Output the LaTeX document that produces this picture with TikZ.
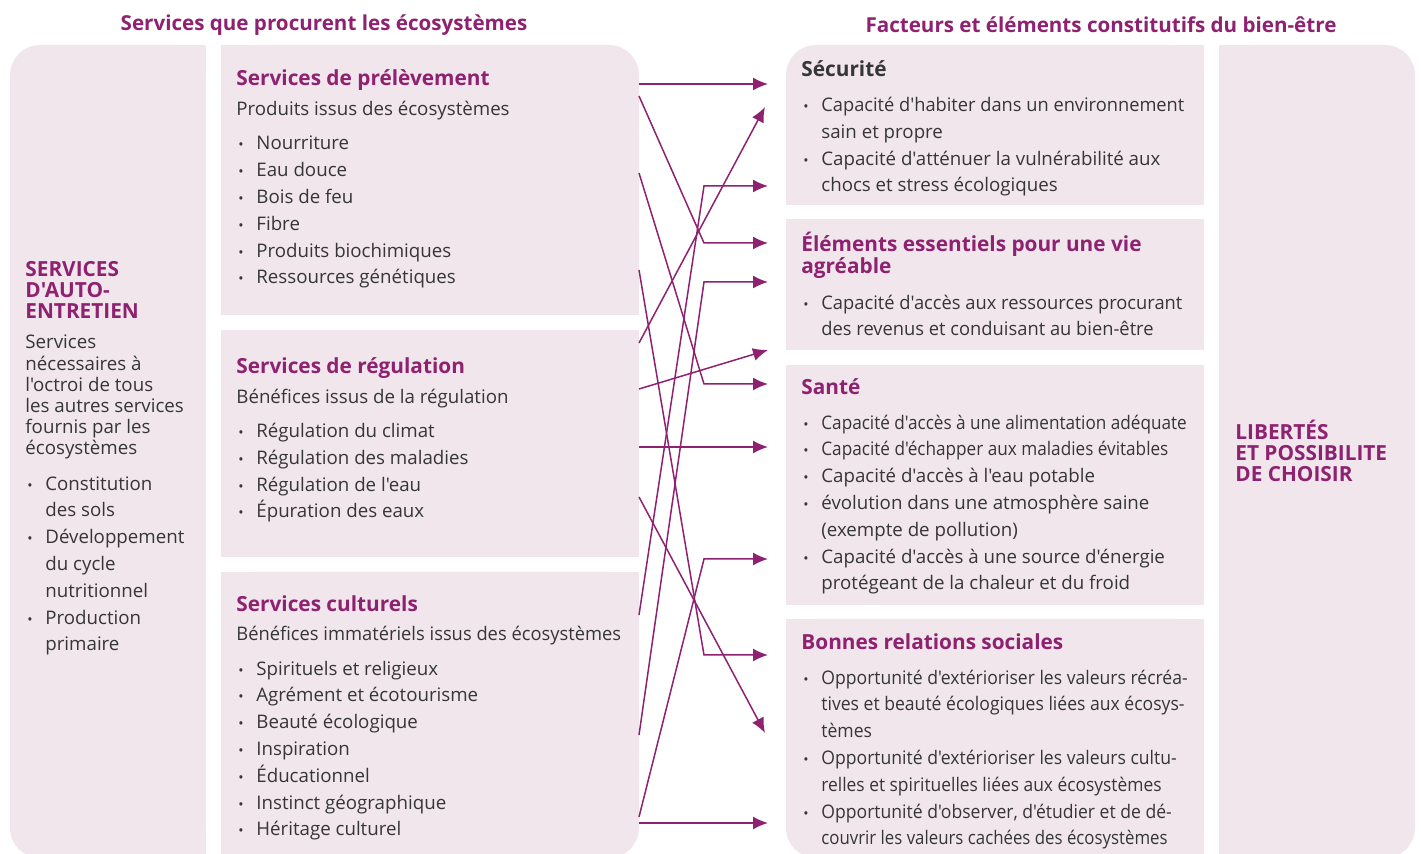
\documentclass[tikz,border=0pt]{standalone}
\usepackage{fontspec}
\setmainfont{Open Sans}[Ligatures=TeXOff]
\usepackage{graphicx}
\usepackage{tikz}
\usetikzlibrary{arrows.meta}
\definecolor{plum}{HTML}{8E2170}
\definecolor{panel}{HTML}{F0E6EC}
\definecolor{ink}{HTML}{363636}
% bullet, hanging indent and a horizontal squeeze for long lines
\newcommand{\bul}{\makebox[10pt][l]{\hspace{1pt}{\fontsize{7}{7}\selectfont\textbullet}}}
\newcommand{\hang}{\hspace*{10pt}}
\newcommand{\sq}[2]{\scalebox{#1}[1]{#2}}

\begin{document}
\begin{tikzpicture}[x=0.5pt,y=-0.5pt,>={Latex[length=7.5pt,width=6.5pt]}]
\tikzset{
  colhead/.style={font=\fontsize{10.3}{12}\selectfont\bfseries,text=plum,inner sep=0},
  boxhead/.style={font=\fontsize{10.4}{11}\selectfont\bfseries,text=plum,inner sep=0,anchor=base west,align=left},
  capshead/.style={font=\fontsize{10.4}{10.5}\selectfont\bfseries,text=plum,inner sep=0,anchor=base west,align=left},
  sub/.style={font=\fontsize{9.35}{10.6}\selectfont,text=ink,inner sep=0,anchor=base west,align=left},
  items/.style={font=\fontsize{9.35}{13.4}\selectfont,text=ink,inner sep=0,anchor=base west,align=left},
  flow/.style={->,line width=0.75pt,draw=plum},
}
\useasboundingbox (0,0) rectangle (1421,854);

% panels: a rounded fill, then square fills over the corners that stay sharp
\fill[panel,rounded corners=15pt] (10,45) rectangle (206,858);
\fill[panel] (110,45) rectangle (206,858);
\fill[panel,rounded corners=15pt] (221,45) rectangle (639,315);
\fill[panel] (221,45) rectangle (430,315);
\fill[panel] (221,150) rectangle (639,315);
\fill[panel] (221,330) rectangle (639,557);
\fill[panel,rounded corners=15pt] (221,572) rectangle (639,858);
\fill[panel] (221,572) rectangle (430,858);
\fill[panel] (221,572) rectangle (639,720);
\fill[panel,rounded corners=15pt] (786,45) rectangle (1204,205);
\fill[panel] (1000,45) rectangle (1204,205);
\fill[panel] (786,120) rectangle (1204,205);
\fill[panel] (786,219) rectangle (1204,350);
\fill[panel] (786,365) rectangle (1204,605);
\fill[panel,rounded corners=15pt] (786,619) rectangle (1204,858);
\fill[panel] (1000,619) rectangle (1204,858);
\fill[panel] (786,619) rectangle (1204,740);
\fill[panel,rounded corners=15pt] (1219,45) rectangle (1415,858);
\fill[panel] (1219,45) rectangle (1320,858);

% column headings
\node[colhead] (svc) at (324,25) {Services que procurent les écosystèmes};
\node[colhead] (bien) at (1101,25) {Facteurs et éléments constitutifs du bien-être};

% supporting services (base = last line)
\node[capshead] (auto) at (25,319) {SERVICES\\D'AUTO-\\ENTRETIEN};
\node[sub] (autodesc) at (25,455) {Services\\nécessaires à\\l'octroi de tous\\les autres services\\fournis par les\\écosystèmes};
\node[items] (autolist) at (25,651) {\bul Constitution\\\hang des sols\\\bul Développement\\\hang du cycle\\\hang nutritionnel\\\bul Production\\\hang primaire};

% provisioning, regulating and cultural services
\node[boxhead] (prov) at (236,86) {Services de prélèvement};
\node[sub] (provsub) at (236,116) {Produits issus des écosystèmes};
\node[items] (provlist) at (236,284) {\bul Nourriture\\\bul Eau douce\\\bul Bois de feu\\\bul Fibre\\\bul Produits biochimiques\\\bul Ressources génétiques};

\node[boxhead] (reg) at (236,374) {Services de régulation};
\node[sub] (regsub) at (236,404) {Bénéfices issus de la régulation};
\node[items] (reglist) at (236,518) {\bul Régulation du climat\\\bul Régulation des maladies\\\bul Régulation de l'eau\\\bul Épuration des eaux};

\node[boxhead] (cult) at (236,612) {Services culturels};
\node[sub] (cultsub) at (236,641) {\sq{.98}{Bénéfices immatériels issus des écosystèmes}};
\node[items] (cultlist) at (236,836) {\bul Spirituels et religieux\\\bul Agrément et écotourisme\\\bul Beauté écologique\\\bul Inspiration\\\bul Éducationnel\\\bul Instinct géographique\\\bul Héritage culturel};

% constituents of well-being
\node[boxhead,text=ink] (secu) at (801,77) {Sécurité};
\node[items] (seculist) at (801,192) {\bul\sq{.976}{Capacité d'habiter dans un environnement}\\\hang sain et propre\\\bul Capacité d'atténuer la vulnérabilité aux\\\hang chocs et stress écologiques};

\node[boxhead] (vie) at (801,274) {Éléments essentiels pour une vie\\agréable};
\node[items] (vielist) at (801,336) {\bul\sq{.98}{Capacité d'accès aux ressources procurant}\\\hang\sq{.98}{des revenus et conduisant au bien-être}};

\node[boxhead] (sante) at (801,395) {Santé};
\node[items] (santelist) at (801,590) {\bul\sq{.917}{Capacité d'accès à une alimentation adéquate}\\\bul\sq{.918}{Capacité d'échapper aux maladies évitables}\\\bul Capacité d'accès à l'eau potable\\\bul évolution dans une atmosphère saine\\\hang (exempte de pollution)\\\bul Capacité d'accès à une source d'énergie\\\hang protégeant de la chaleur et du froid};

\node[boxhead] (soc) at (801,650) {Bonnes relations sociales};
\node[items] (soclist) at (801,845) {\bul\sq{.94}{Opportunité d'extérioriser les valeurs récréa-}\\\hang\sq{.94}{tives et beauté écologiques liées aux écosys-}\\\hang\sq{.94}{tèmes}\\\bul\sq{.94}{Opportunité d'extérioriser les valeurs cultu-}\\\hang\sq{.93}{relles et spirituelles liées aux écosystèmes}\\\bul\sq{.94}{Opportunité d'observer, d'étudier et de dé-}\\\hang\sq{.9}{couvrir les valeurs cachées des écosystèmes}};

\node[capshead] (libre) at (1235,482) {LIBERTÉS\\ET POSSIBILITE\\DE CHOISIR};

% arrow ends on both sides
\coordinate (prov1) at (639,84);
\coordinate (prov2) at (639,96);
\coordinate (prov3) at (639,173);
\coordinate (prov4) at (639,270);
\coordinate (reg1) at (639,343);
\coordinate (reg2) at (639,389);
\coordinate (reg3) at (639,447);
\coordinate (reg4) at (639,497);
\coordinate (cult1) at (639,615);
\coordinate (cult2) at (639,735);
\coordinate (cult3) at (639,817);
\coordinate (cult4) at (639,823);
\coordinate (secu1) at (768,84);
\coordinate (secu2) at (765,107);
\coordinate (secu3) at (768,186);
\coordinate (vie1) at (768,243);
\coordinate (vie2) at (768,282);
\coordinate (vie3) at (768,350);
\coordinate (sante1) at (768,384);
\coordinate (sante2) at (768,447);
\coordinate (sante3) at (768,559);
\coordinate (soc1) at (768,655);
\coordinate (soc2) at (765,733);
\coordinate (soc3) at (768,823);
\coordinate (bend) at (704,0);

\draw[flow] (prov1) -- (secu1);
\draw[flow] (prov2) -- (bend |- vie1) -- (vie1);
\draw[flow] (prov3) -- (bend |- sante1) -- (sante1);
\draw[flow] (prov4) -- (bend |- soc1) -- (soc1);
\draw[flow] (reg1) -- (secu2);
\draw[flow] (reg2) -- (vie3);
\draw[flow] (reg3) -- (sante2);
\draw[flow] (reg4) -- (soc2);
\draw[flow] (cult1) -- (bend |- secu3) -- (secu3);
\draw[flow] (cult2) -- (bend |- vie2) -- (vie2);
\draw[flow] (cult3) -- (bend |- sante3) -- (sante3);
\draw[flow] (cult4) -- (soc3);
\end{tikzpicture}
\end{document}
